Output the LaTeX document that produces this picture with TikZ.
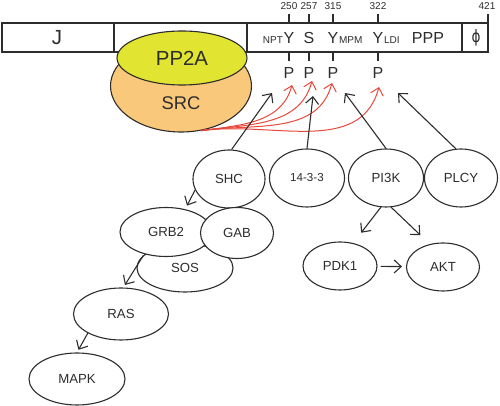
\documentclass[tikz,border=0pt]{standalone}
\usepackage{fontspec}
\setmainfont{Liberation Sans}
\newfontfamily\greekfont{DejaVu Sans}
\usetikzlibrary{arrows.meta,shapes.geometric}

\definecolor{pptwoa}{RGB}{226,228,50}
\definecolor{srcorange}{RGB}{250,200,122}
\definecolor{inkgray}{RGB}{45,45,45}
\definecolor{phosred}{RGB}{232,72,60}

\begin{document}
\begin{tikzpicture}[
    x=0.5pt,
    y=0.5pt,
    every node/.style={text=inkgray, inner sep=0pt},
    bar/.style={draw=inkgray, line width=0.55pt},
    blob/.style={ellipse, draw=inkgray, line width=0.55pt, fill=white, font=\fontsize{6.6}{7}\selectfont},
    big/.style={font=\fontsize{10.2}{11}\selectfont},
    res/.style={font=\fontsize{8}{9}\selectfont},
    small/.style={font=\fontsize{5}{6}\selectfont},
    act/.style={draw=inkgray, line width=0.55pt, -{Straight Barb[length=3.5pt,width=6.5pt]}},
    phos/.style={draw=phosred, line width=0.5pt, -{Straight Barb[length=3.5pt,width=6.5pt]}}
  ]
  \useasboundingbox (0,0) rectangle (500,-406);
  % domain bar
  \draw[bar, fill=white] (2,-23) rectangle (488,-52);
  \foreach \x in {114,247,462}
    \draw[bar] (\x,-23) -- (\x,-52);
  \draw[bar] (488,-23) -- (488,-14);
  \node[small] (n0) at (487,-6) {421};
  \foreach \x/\n/\k in {289/250/1,309/257/2,333/315/3,378/322/4} {
    \draw[bar] (\x,-14) -- (\x,-23);
    \draw[bar] (\x,-52) -- (\x,-61);
    \node[small] (n\k) at (\x,-6) {\n};
    \node[res] (p\k) at (\x,-73) {P};
  }
  \node[big] (jdom) at (57,-38) {J};
  \node[res] (y1) at (289,-38) {Y};
  \node[small, anchor=base east] (npt) at (y1.base west) {NPT};
  \node[res] (s2) at (309,-38) {S};
  \node[res] (y3) at (333,-38) {Y};
  \node[small, anchor=base west] (mpm) at (y3.base east) {MPM};
  \node[res] (y4) at (378,-38) {Y};
  \node[small, anchor=base west] (ldi) at (y4.base east) {LDI};
  \node[res] (ppp) at (428,-38) {PPP};
  \node[font=\greekfont\fontsize{8.5}{9}\selectfont, xscale=0.8] (phi) at (476,-38) {ϕ};

  % kinase complex
  \node[ellipse, draw=inkgray, line width=0.55pt, fill=srcorange,
    minimum width=70.5pt, minimum height=46pt] (src) at (181,-86) {};
  \node[font=\fontsize{9.2}{10}\selectfont] (srctxt) at (181,-103) {SRC};
  \node[ellipse, draw=inkgray, line width=0.55pt, fill=pptwoa,
    minimum width=65pt, minimum height=27pt, big] (pp2a) at (182,-58) {PP2A};

  % adaptors
  \node[blob, minimum width=36pt, minimum height=29pt] (shc) at (229,-179) {SHC};
  \node[blob, minimum width=37.5pt, minimum height=29pt, font=\fontsize{5.8}{7}\selectfont] (f1433) at (307,-178) {14-3-3};
  \node[blob, minimum width=37.5pt, minimum height=29pt] (pi3k) at (386,-178) {PI3K};
  \node[blob, minimum width=36.5pt, minimum height=29pt] (plcy) at (461,-178) {PLCY};
  \node[blob, minimum width=48pt, minimum height=24pt] (sos) at (185,-268) {SOS};
  \node[blob, minimum width=46pt, minimum height=24.5pt] (grb2) at (166,-232) {GRB2};
  \node[blob, minimum width=36.5pt, minimum height=25.5pt] (gab) at (237,-233) {GAB};
  \node[blob, minimum width=37pt, minimum height=24pt] (pdk1) at (340,-266) {PDK1};
  \node[blob, minimum width=36.5pt, minimum height=24pt] (akt) at (443,-267) {AKT};
  \node[blob, minimum width=47.5pt, minimum height=26pt] (ras) at (121,-314) {RAS};
  \node[blob, minimum width=48pt, minimum height=26pt] (mapk) at (77,-379) {MAPK};

  % arrow tips under the sites
  \coordinate (r1) at (292,-85);
  \coordinate (r2) at (312,-81);
  \coordinate (r3) at (332,-83);
  \coordinate (r4) at (379,-87);
  \coordinate (t1) at (272,-93);
  \coordinate (t2) at (313,-96);
  \coordinate (t3) at (345,-93);
  \coordinate (t4) at (398,-93);

  \foreach \k in {1,...,4}
    \draw[phos] (src.-66) to[out=8, in=-105] (r\k);

  \draw[act] (shc.85) -- (t1);
  \draw[act] (f1433.north) -- (t2);
  \draw[act] (pi3k.north) -- (t3);
  \draw[act] (plcy.100) -- (t4);

  \draw[act, shorten >=2pt] (shc.-162) -- (grb2.50);
  \draw[act, shorten >=1.5pt] (sos.163) -- (ras.85);
  \draw[act, shorten >=1.5pt] (ras.-150) -- (mapk.north);
  \draw[act, shorten >=6.5pt] (pi3k.-100) -- (pdk1.60);
  \draw[act, shorten >=6.5pt] (pi3k.-80) -- (akt.120);
  \draw[act, shorten <=1.5pt, shorten >=2pt] (pdk1) -- (akt);
\end{tikzpicture}
\end{document}
